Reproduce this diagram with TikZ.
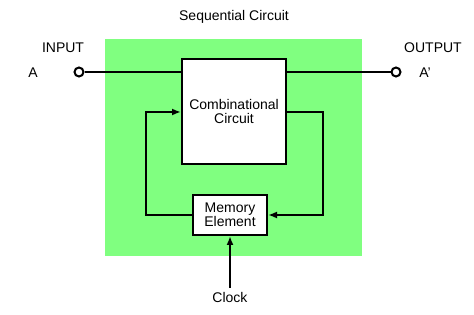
\documentclass[tikz,border=0pt]{standalone}
\usepackage{fontspec}
\setmainfont{Liberation Sans}
\usetikzlibrary{arrows.meta,positioning,shapes}
\definecolor{seqgreen}{RGB}{128,255,128}

\begin{document}
\begin{tikzpicture}[x=1pt,y=-1pt,line width=2pt,font=\fontsize{14}{16}\selectfont,
  >={Latex[length=9pt,width=7pt]}]
\useasboundingbox (0,0) rectangle (474,315);
\fill[seqgreen] (105,39) rectangle (362,256);
\node (title) at (234,17) {Sequential Circuit};
\node[draw,fill=white,minimum width=104pt,minimum height=105pt,align=center] (comb) at (234,111.5) {Combinational\\[-2pt]Circuit};
\node[draw,fill=white,minimum width=74pt,minimum height=40pt,align=center,inner sep=1pt] (mem) at (230,215) {Memory\\[-2pt]Element};
\node[draw,circle,fill=white,inner sep=0pt,minimum size=9pt] (in) at (79,72) {};
\node[draw,circle,fill=white,inner sep=0pt,minimum size=9pt] (out) at (396,72) {};
\node (inlbl) at (63,48) {INPUT};
\node (a) at (33,73) {A};
\node (outlbl) at (433,48) {OUTPUT};
\node (aprime) at (425,73) {A'};
\node (clk) at (230,297) {Clock};
\coordinate (fbl) at (146,112);
\coordinate (fbr) at (323,112);
\draw (in) -- (comb.west |- in);
\draw (comb.east |- out) -- (out);
\draw[->] (mem.west) -| (fbl) -- (comb.west |- fbl);
\draw[->] (comb.east |- fbr) -- (fbr) |- (mem.east);
\draw[->] (clk.north) -- (mem.south);
\end{tikzpicture}
\end{document}
